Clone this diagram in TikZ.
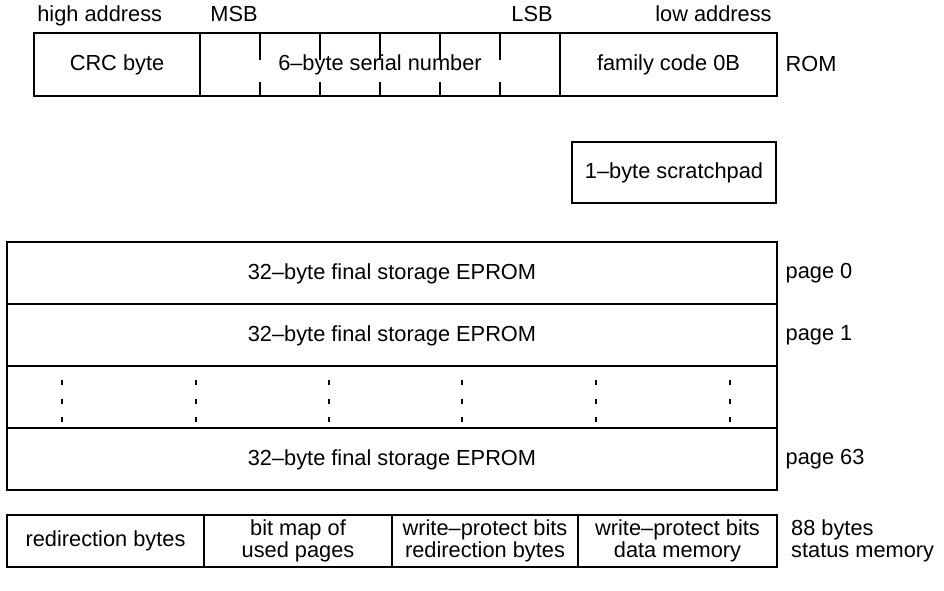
\documentclass[tikz,border=0pt]{standalone}
\usepackage{fontspec}
\setmainfont{Liberation Sans}
\usetikzlibrary{positioning}
\tikzset{every node/.style={font=\fontsize{12.4}{12.8}\selectfont}, % Text size of all labels
field/.style={ % Border shared by all fields
draw, line width=0.8pt,
inner sep=0pt, outer sep=0pt},
cell/.style={ % One field of a memory row
field, minimum height=1.26cm,
text height=0.72em, text depth=0pt},
page/.style={ % One 32-byte page of the EPROM
cell, minimum width=15.4cm, minimum height=1.24cm},
status/.style={ % One field of the status memory
field, minimum height=1.04cm, align=center},
tag/.style={anchor=base, inner sep=0pt}, % Labels above the ROM
dots/.style={line width=0.8pt, dash pattern=on 0.1cm off 0.27cm}}

\begin{document}
\begin{tikzpicture}
    \useasboundingbox (0,0) rectangle (18.88,11.8);

    % ROM
    \node[cell, minimum width=3.32cm] (crc) at (2.34,10.51) {CRC byte};
    \node[cell, minimum width=7.2cm, right=0pt of crc] (serial) {6--byte serial number};
    \node[cell, minimum width=4.34cm, right=0pt of serial] (family) {family code 0B};
    \node[right=0.05cm of family] (rom) {ROM};
    \foreach \i in {1,...,5} {
        \draw[line width=0.8pt] ([xshift=\i*1.2cm]serial.north west) -- ++(0,-0.54);
        \draw[line width=0.8pt] ([xshift=\i*1.2cm]serial.south west) -- ++(0,0.28);
    }

    \node[tag, anchor=base west] (high) at (0.74,11.36) {high address};
    \node[tag] (msb) at (4.68,11.36) {MSB};
    \node[tag] (lsb) at (10.64,11.36) {LSB};
    \node[tag, anchor=base east] (low) at (15.44,11.36) {low address};

    % scratchpad
    \node[cell, minimum width=4.08cm, minimum height=1.22cm] (scratch) at (13.48,8.35) {1--byte scratchpad};

    % EPROM pages
    \node[page] (p0) at (7.84,6.34) {32--byte final storage EPROM};
    \node[page, below=0pt of p0] (p1) {32--byte final storage EPROM};
    \node[page, below=0pt of p1] (pdots) {};
    \node[page, below=0pt of pdots] (p63) {32--byte final storage EPROM};
    \foreach \x in {1.24,3.92,6.58,9.24,11.92,14.6}
        \draw[dots] (\x,4.2) -- (\x,3.35);

    \node[right=0.05cm of p0] (l0) {page 0};
    \node[right=0.05cm of p1] (l1) {page 1};
    \node[right=0.05cm of p63] (l63) {page 63};

    % status memory
    \node[status, minimum width=3.94cm] (s1) at (2.11,0.98) {redirection bytes};
    \node[status, minimum width=3.76cm, right=0pt of s1] (s2) {bit map of\\used pages};
    \node[status, minimum width=3.72cm, right=0pt of s2] (s3) {write--protect bits\\redirection bytes};
    \node[status, minimum width=3.98cm, right=0pt of s3] (s4) {write--protect bits\\data memory};
    \node[right=0.16cm of s4, align=left] (smem) {88 bytes\\status memory};

\end{tikzpicture}
\end{document}
